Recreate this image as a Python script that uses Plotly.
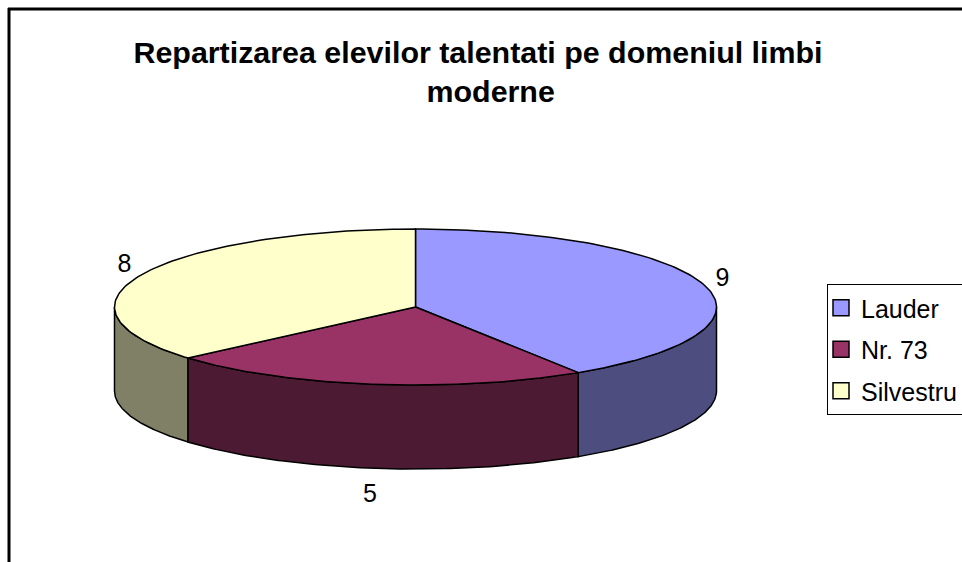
import numpy as np
import plotly.graph_objects as go

categories = ["Lauder", "Nr. 73", "Silvestru"]
values = [9, 5, 8]
title_lines = ["Repartizarea elevilor talentati pe domeniul limbi", "\u00a0\u00a0\u00a0moderne"]

top_colors = ["#9999FF", "#993366", "#FFFFCC"]
side_colors = ["#4D4D80", "#4D1A33", "#808066"]

# Geometry of the projected pie, in page pixels
W, H = 962, 562
CX, CY, RX, RY, DEPTH = 415.5, 307, 301, 78, 84
LABEL_DX, LABEL_DY, LABEL_SHIFT = 19, 26, 2
LINE = dict(color="black", width=1.5)
FONT = "Liberation Sans, Arial, sans-serif"


def arc(a0, a1, dy=0.0):
    t = np.radians(np.linspace(a0, a1, 120))
    return CX + RX * np.sin(t), CY - RY * np.cos(t) + dy


total = sum(values)
edges = np.concatenate([[0], np.cumsum(values) / total * 360])

fig = go.Figure()

# Side walls (only the part of each slice that faces the viewer)
order = sorted(range(len(values)), key=lambda i: -abs(((edges[i] + edges[i + 1]) / 2) - 180))
for i in order:
    a0, a1 = max(edges[i], 90), min(edges[i + 1], 270)
    if a1 <= a0:
        continue
    xt, yt = arc(a0, a1)
    xb, yb = arc(a0, a1, DEPTH)
    fig.add_trace(go.Scatter(
        x=np.r_[xt, xb[::-1], xt[0]], y=np.r_[yt, yb[::-1], yt[0]],
        mode="lines", fill="toself", fillcolor=side_colors[i], line=LINE,
        showlegend=False, hoverinfo="skip"))

# Top faces
for i in range(len(values)):
    xt, yt = arc(edges[i], edges[i + 1])
    fig.add_trace(go.Scatter(
        x=np.r_[CX, xt, CX], y=np.r_[CY, yt, CY],
        mode="lines", fill="toself", fillcolor=top_colors[i], line=LINE,
        showlegend=False, name=categories[i], hoverinfo="name"))

# Data labels
mids = np.radians((edges[:-1] + edges[1:]) / 2)
lx = CX + (RX + LABEL_DX) * np.sin(mids)
ly = CY - (RY + LABEL_DY) * np.cos(mids) + np.where(np.cos(mids) < 0, DEPTH, 0) + LABEL_SHIFT
fig.add_trace(go.Scatter(
    x=lx, y=ly, mode="text", text=[str(v) for v in values],
    textposition="middle center", textfont=dict(family=FONT, size=25, color="black"),
    showlegend=False, hoverinfo="skip"))

# Legend entries
for i, c in enumerate(categories):
    fig.add_trace(go.Scatter(
        x=[None], y=[None], mode="markers", name=c, legendgroup=c,
        marker=dict(symbol="square", size=16, color=top_colors[i],
                    line=dict(color="black", width=1.5))))

fig.update_layout(
    width=W, height=H,
    margin=dict(l=0, r=0, t=0, b=0, autoexpand=False),
    paper_bgcolor="white", plot_bgcolor="white",
    showlegend=True,
    title=dict(text="<br>".join(title_lines), x=478 / W, xanchor="center",
               y=1 - 62.5 / H, yanchor="middle",
               font=dict(family=FONT, size=30.4, color="black", weight="bold")),
    legend=dict(x=827 / W, xanchor="left", y=1 - 284 / H, yanchor="top",
                bordercolor="black", borderwidth=1, bgcolor="white",
                font=dict(family=FONT, size=25, color="black"),
                itemwidth=30, tracegroupgap=6, indentation=-7),
    xaxis=dict(range=[0, W], visible=False, fixedrange=True),
    yaxis=dict(range=[H, 0], visible=False, fixedrange=True),
    shapes=[
        dict(type="line", xref="x", yref="y", x0=9, x1=9, y0=8, y1=H,
             line=dict(color="black", width=3)),
        dict(type="line", xref="x", yref="y", x0=8, x1=W, y0=9, y1=9,
             line=dict(color="black", width=3)),
    ],
)

fig.write_html("out.html", config=dict(displayModeBar=False),
               post_script="document.body.style.margin='0';")
